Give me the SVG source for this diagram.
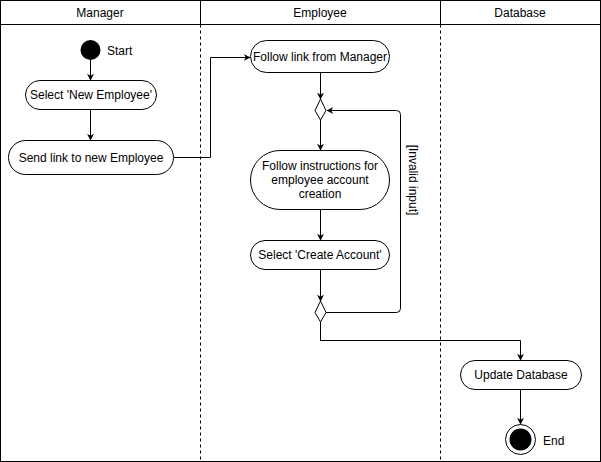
<svg xmlns="http://www.w3.org/2000/svg" width="601" height="462" viewBox="0 0 601 462">
  <style>
    text { font-family: "Liberation Sans", Arial, sans-serif; font-size: 12px; fill: #000; }
    .act { fill: #fff; stroke: #000; stroke-width: 1; }
    .lane { fill: none; stroke: #000; stroke-width: 1; }
    .divider { stroke: #000; stroke-width: 1; stroke-dasharray: 3 3; }
    .edge { fill: none; stroke: #000; stroke-width: 1; marker-end: url(#arrow); }
    .mid { text-anchor: middle; }
  </style>
  <defs>
    <marker id="arrow" viewBox="0 0 10 10" refX="9" refY="5" markerWidth="7" markerHeight="7" markerUnits="userSpaceOnUse" orient="auto">
      <path d="M0,0 L10,5 L0,10 L3,5 Z" fill="#000"/>
    </marker>
  </defs>
  <rect width="601" height="462" fill="#fff"/>

  <!-- swimlane frame -->
  <g id="lanes">
    <rect class="lane" x="0.5" y="0.5" width="600" height="461"/>
    <line class="lane" x1="0.5" y1="24.5" x2="600.5" y2="24.5"/>
    <line class="lane" x1="200.5" y1="0.5" x2="200.5" y2="24.5"/>
    <line class="lane" x1="440.5" y1="0.5" x2="440.5" y2="24.5"/>
    <line class="divider" x1="200.5" y1="24.5" x2="200.5" y2="461"/>
    <line class="divider" x1="440.5" y1="24.5" x2="440.5" y2="461"/>
    <text class="mid" x="100" y="17">Manager</text>
    <text class="mid" x="320" y="17">Employee</text>
    <text class="mid" x="520" y="17">Database</text>
  </g>

  <!-- connectors -->
  <g id="connectors">
    <path class="edge" d="M90.5,60 L90.5,80"/>
    <path class="edge" d="M90.5,110 L90.5,140"/>
    <path class="edge" d="M174,157.5 L210.5,157.5 L210.5,57.5 L250,57.5"/>
    <path class="edge" d="M320.5,73 L320.5,99"/>
    <path class="edge" d="M320.5,120 L320.5,150"/>
    <path class="edge" d="M320.5,210 L320.5,240"/>
    <path class="edge" d="M320.5,270 L320.5,301"/>
    <path class="edge" d="M326,312.5 L396.5,312.5 Q400.5,312.5 400.5,308.5 L400.5,114.5 Q400.5,110.5 396.5,110.5 L327,110.5"/>
    <path class="edge" d="M320.5,322 L320.5,340.5 L520.5,340.5 L520.5,360"/>
    <path class="edge" d="M520.5,389 L520.5,424"/>
    <text transform="translate(409,180) rotate(90)" class="mid" font-size="11">[Invalid input]</text>
  </g>

  <g id="start">
    <circle cx="90.5" cy="50" r="10" fill="#000"/>
    <text x="107" y="55">Start</text>
  </g>

  <g id="select-new-employee">
    <rect class="act" x="25.5" y="80.5" width="131" height="29" rx="14.5"/>
    <text class="mid" x="91" y="99">Select 'New Employee'</text>
  </g>

  <g id="send-link">
    <rect class="act" x="8.5" y="140.5" width="165" height="34" rx="17"/>
    <text class="mid" x="91" y="162">Send link to new Employee</text>
  </g>

  <g id="follow-link">
    <rect class="act" x="250.5" y="40.5" width="139" height="32" rx="16"/>
    <text class="mid" x="320" y="61">Follow link from Manager</text>
  </g>

  <g id="merge">
    <polygon class="act" points="320.5,99 326,110.5 320.5,120 315,110.5"/>
  </g>

  <g id="follow-instructions">
    <rect class="act" x="250.5" y="150.5" width="139" height="59" rx="29.5"/>
    <text class="mid" x="320" y="170">Follow instructions for</text>
    <text class="mid" x="320" y="184">employee account</text>
    <text class="mid" x="320" y="198">creation</text>
  </g>

  <g id="create-account">
    <rect class="act" x="250.5" y="240.5" width="139" height="29" rx="14.5"/>
    <text class="mid" x="320" y="259">Select 'Create Account'</text>
  </g>

  <g id="decision">
    <polygon class="act" points="320.5,301 326,312.5 320.5,322 315,312.5"/>
  </g>

  <g id="update-database">
    <rect class="act" x="460.5" y="360.5" width="121" height="29" rx="14.5"/>
    <text class="mid" x="521" y="379">Update Database</text>
  </g>

  <g id="end">
    <circle cx="520.5" cy="439.5" r="15" fill="#fff" stroke="#000" stroke-width="1"/>
    <circle cx="520.5" cy="439.5" r="11" fill="#000"/>
    <text x="543" y="445">End</text>
  </g>
</svg>
